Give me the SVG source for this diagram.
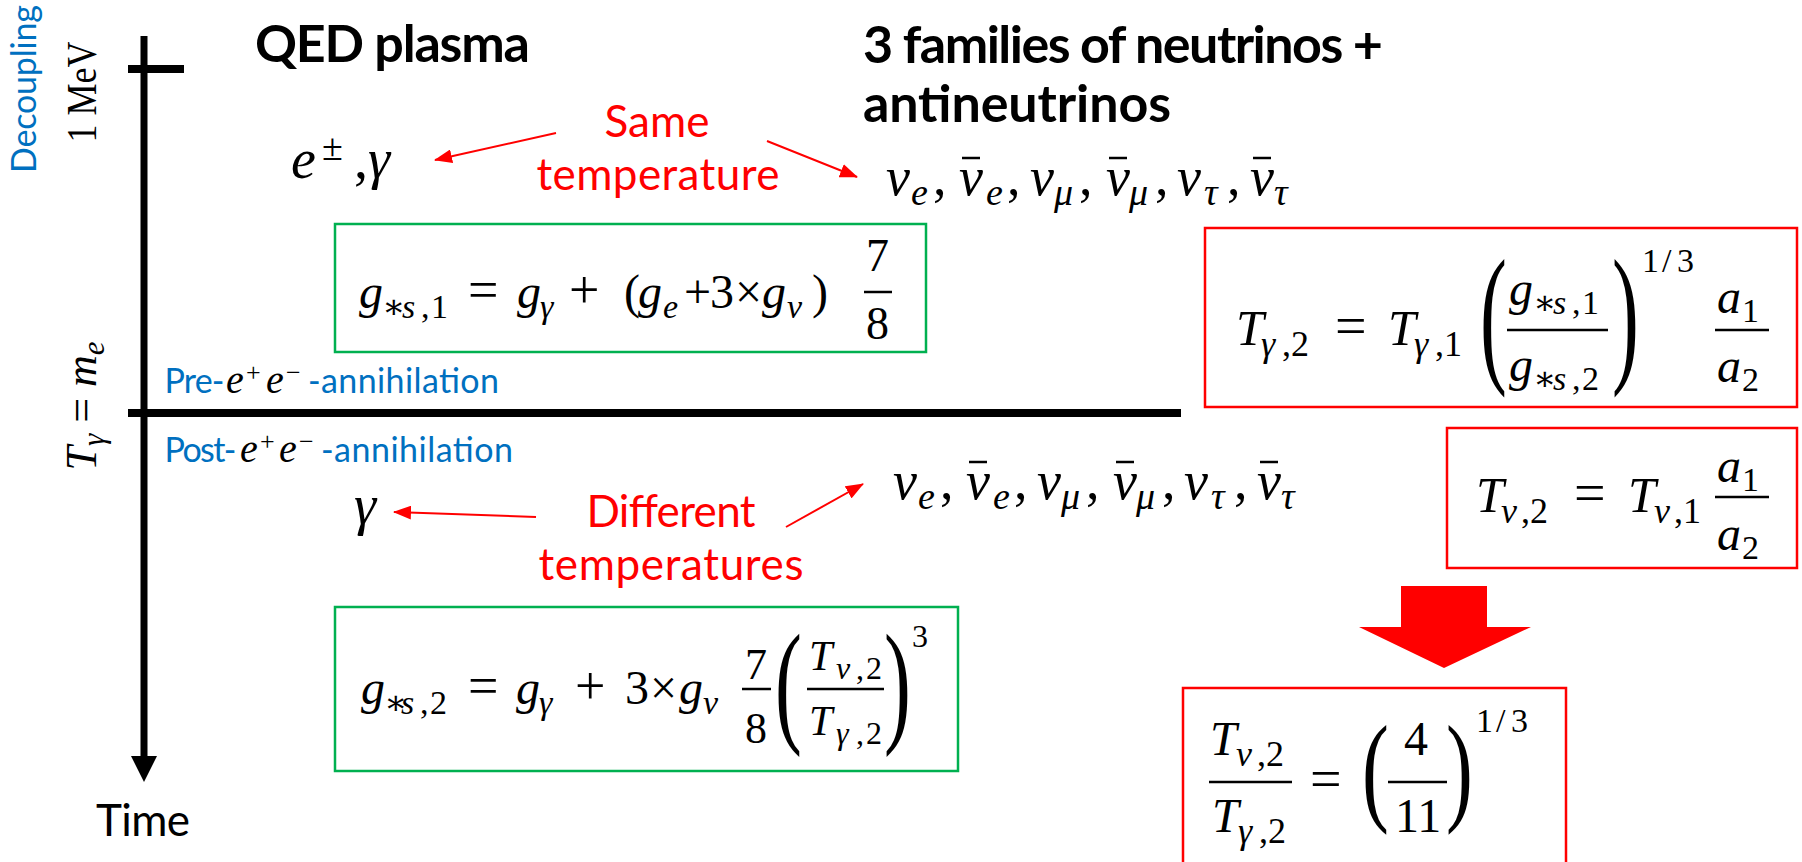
<svg xmlns="http://www.w3.org/2000/svg" width="1802" height="862" viewBox="0 0 1802 862">
<defs>
<style>
.s{font-family:Lato,"Open Sans","Liberation Sans",sans-serif}
.b{font-weight:700}
.m{font-family:"Liberation Serif","DejaVu Serif",serif;font-style:italic;fill:#000}
.u{font-style:normal}
.red{fill:#FF0000}
.blue{fill:#0070C0}
.gbox{fill:none;stroke:#00B050;stroke-width:2.5}
.rbox{fill:none;stroke:#FF0000;stroke-width:2.5}
.bar{stroke:#000;stroke-width:2.5}
.thin{stroke:#FF0000;stroke-width:2;fill:none}
</style>
<marker id="ah" markerUnits="userSpaceOnUse" markerWidth="18" markerHeight="14" refX="17" refY="7" orient="auto"><path d="M0,0 L18,7 L0,14 z" fill="#FF0000"/></marker>
</defs>
<rect width="1802" height="862" fill="#fff"/>

<g id="time-axis">
<line x1="144" y1="36" x2="144" y2="760" stroke="#000" stroke-width="7"/>
<polygon points="131,756 157,756 144,782" fill="#000"/>
<line x1="128" y1="69" x2="184" y2="69" stroke="#000" stroke-width="8"/>
<line x1="128" y1="413" x2="1181" y2="413" stroke="#000" stroke-width="8"/>
<text class="s" x="96" y="836" font-size="44" textLength="94">Time</text>
</g>

<g id="axis-labels">
<text class="s blue" font-size="34" text-anchor="middle" textLength="168" transform="translate(36,89) rotate(-90)">Decoupling</text>
<text class="m u" font-size="42" text-anchor="middle" textLength="101" lengthAdjust="spacingAndGlyphs" transform="translate(96,92) rotate(-90)">1 MeV</text>
<text class="m" font-size="44" text-anchor="middle" transform="translate(96,406) rotate(-90)">T<tspan font-size="31" dy="8">γ</tspan><tspan class="u" dy="-8"> = </tspan>m<tspan font-size="31" dy="8">e</tspan></text>
</g>

<g id="phase-labels">
<text class="s blue" font-size="34" y="393"><tspan x="164.5" textLength="60">Pre-</tspan><tspan class="m" x="226" font-size="40">e</tspan><tspan class="m u" x="246" y="381" font-size="26">+</tspan><tspan class="m" x="266" y="393" font-size="40">e</tspan><tspan class="m u" x="286" y="381" font-size="26">−</tspan><tspan x="308" y="393" textLength="191">-annihilation</tspan></text>
<text class="s blue" font-size="34" y="462"><tspan x="164.5" textLength="72">Post-</tspan><tspan class="m" x="240" font-size="40">e</tspan><tspan class="m u" x="260" y="450" font-size="26">+</tspan><tspan class="m" x="279" y="462" font-size="40">e</tspan><tspan class="m u" x="299" y="450" font-size="26">−</tspan><tspan x="321" y="462" textLength="192">-annihilation</tspan></text>
</g>

<g id="title-qed">
<text class="s b" x="255" y="62" font-size="52" textLength="275">QED plasma</text>
</g>
<g id="title-neutrinos">
<text class="s b" x="863" y="63" font-size="52" textLength="520">3 families of neutrinos +</text>
<text class="s b" x="863" y="122" font-size="52" textLength="308">antineutrinos</text>
</g>

<g id="particles-pre-qed">
<text class="m" font-size="56"><tspan x="291" y="178">e</tspan><tspan class="u" x="322" y="160" font-size="38">±</tspan><tspan class="u" x="354" y="178">,</tspan><tspan x="368" y="178">γ</tspan></text>
</g>
<g id="particles-pre-nu">
<text class="m" font-size="54"><tspan x="886" y="195">ν</tspan><tspan x="911" y="205" font-size="38">e</tspan><tspan class="u" x="933" y="195">,</tspan><tspan x="959" y="195">ν</tspan><tspan x="986" y="205" font-size="38">e</tspan><tspan class="u" x="1007" y="195">,</tspan><tspan x="1030" y="195">ν</tspan><tspan x="1054" y="205" font-size="38">μ</tspan><tspan class="u" x="1079" y="195">,</tspan><tspan x="1106" y="195">ν</tspan><tspan x="1129" y="205" font-size="38">μ</tspan><tspan class="u" x="1155" y="195">,</tspan><tspan x="1177" y="195">ν</tspan><tspan x="1204" y="205" font-size="38">τ</tspan><tspan class="u" x="1227" y="195">,</tspan><tspan x="1250" y="195">ν</tspan><tspan x="1274" y="205" font-size="38">τ</tspan></text>
<line class="bar" x1="962" y1="158" x2="980" y2="158"/>
<line class="bar" x1="1109" y1="158" x2="1127" y2="158"/>
<line class="bar" x1="1253" y1="158" x2="1271" y2="158"/>
</g>
<g id="label-same">
<text class="s red" font-size="44" text-anchor="middle" x="657" y="137" textLength="105">Same</text>
<text class="s red" font-size="44" text-anchor="middle" x="658" y="190" textLength="243">temperature</text>
</g>

<g id="particles-post-gamma">
<text class="m" x="354" y="524" font-size="56">γ</text>
</g>
<g id="particles-post-nu">
<text class="m" font-size="54"><tspan x="893" y="499">ν</tspan><tspan x="918" y="509" font-size="38">e</tspan><tspan class="u" x="940" y="499">,</tspan><tspan x="966" y="499">ν</tspan><tspan x="993" y="509" font-size="38">e</tspan><tspan class="u" x="1014" y="499">,</tspan><tspan x="1037" y="499">ν</tspan><tspan x="1061" y="509" font-size="38">μ</tspan><tspan class="u" x="1086" y="499">,</tspan><tspan x="1113" y="499">ν</tspan><tspan x="1136" y="509" font-size="38">μ</tspan><tspan class="u" x="1162" y="499">,</tspan><tspan x="1184" y="499">ν</tspan><tspan x="1211" y="509" font-size="38">τ</tspan><tspan class="u" x="1234" y="499">,</tspan><tspan x="1257" y="499">ν</tspan><tspan x="1281" y="509" font-size="38">τ</tspan></text>
<line class="bar" x1="969" y1="462" x2="987" y2="462"/>
<line class="bar" x1="1116" y1="462" x2="1134" y2="462"/>
<line class="bar" x1="1260" y1="462" x2="1278" y2="462"/>
</g>
<g id="label-different">
<text class="s red" font-size="44" text-anchor="middle" x="671" y="527" textLength="169">Different</text>
<text class="s red" font-size="44" text-anchor="middle" x="671" y="580" textLength="265">temperatures</text>
</g>

<g id="eq-gs1">
<rect class="gbox" x="335" y="224" width="591" height="128"/>
<text class="m" font-size="48"><tspan x="359" y="308">g</tspan><tspan x="382 402" y="318" font-size="34">∗s</tspan><tspan class="u" x="421 431" y="318" font-size="34">,1</tspan><tspan class="u" x="468" y="308" font-size="54">=</tspan><tspan x="517" y="308">g</tspan><tspan x="540" y="318" font-size="34">γ</tspan><tspan class="u" x="569" y="308" font-size="54">+</tspan><tspan class="u" x="624" y="308">(</tspan><tspan x="638" y="308">g</tspan><tspan x="663" y="318" font-size="34">e</tspan><tspan class="u" x="684 710 735" y="308">+3×</tspan><tspan x="762" y="308">g</tspan><tspan x="787" y="318" font-size="34">ν</tspan><tspan class="u" x="812" y="308">)</tspan></text>
<text class="m u" font-size="46"><tspan x="866" y="271">7</tspan><tspan x="866" y="339">8</tspan></text>
<line class="bar" x1="864" y1="292" x2="892" y2="292"/>
</g>

<g id="eq-gs2">
<rect class="gbox" x="335" y="607" width="623" height="164"/>
<text class="m" font-size="48"><tspan x="361" y="704">g</tspan><tspan x="384 401" y="714" font-size="34">∗s</tspan><tspan class="u" x="420 430" y="714" font-size="34">,2</tspan><tspan class="u" x="468" y="704" font-size="54">=</tspan><tspan x="516" y="704">g</tspan><tspan x="539" y="714" font-size="34">γ</tspan><tspan class="u" x="575" y="704" font-size="54">+</tspan><tspan class="u" x="625 650" y="704">3×</tspan><tspan x="679" y="704">g</tspan><tspan x="703" y="714" font-size="34">ν</tspan></text>
<text class="m u" font-size="44"><tspan x="745" y="679">7</tspan><tspan x="745" y="743">8</tspan></text>
<line class="bar" x1="742" y1="689" x2="771" y2="689"/>
<text class="m u" font-size="62" transform="translate(775,728) scale(1.3,2.18)">(</text>
<text class="m" font-size="42"><tspan x="809" y="670">T</tspan><tspan x="836" y="679" font-size="32">ν</tspan><tspan class="u" x="856 866" y="679" font-size="32">,2</tspan><tspan x="809" y="735">T</tspan><tspan x="836" y="744" font-size="32">γ</tspan><tspan class="u" x="856 866" y="744" font-size="32">,2</tspan></text>
<line class="bar" x1="807" y1="689" x2="884" y2="689"/>
<text class="m u" font-size="62" transform="translate(884,728) scale(1.3,2.18)">)</text>
<text class="m u" x="912" y="647" font-size="32">3</text>
</g>

<g id="eq-tgamma2">
<rect class="rbox" x="1205" y="228" width="592" height="179"/>
<text class="m" font-size="50"><tspan x="1236" y="345">T</tspan><tspan x="1261" y="356" font-size="36">γ</tspan><tspan class="u" x="1282 1291" y="356" font-size="36">,2</tspan><tspan class="u" x="1335" y="345" font-size="56">=</tspan><tspan x="1388" y="345">T</tspan><tspan x="1414" y="356" font-size="36">γ</tspan><tspan class="u" x="1435 1444" y="356" font-size="36">,1</tspan></text>
<text class="m u" font-size="62" transform="translate(1480,365) scale(1.3,2.45)">(</text>
<text class="m" font-size="48"><tspan x="1509" y="305">g</tspan><tspan x="1533 1553" y="314" font-size="34">∗s</tspan><tspan class="u" x="1572 1582" y="314" font-size="34">,1</tspan><tspan x="1509" y="381">g</tspan><tspan x="1533 1553" y="390" font-size="34">∗s</tspan><tspan class="u" x="1572 1582" y="390" font-size="34">,2</tspan></text>
<line class="bar" x1="1507" y1="330" x2="1608" y2="330"/>
<text class="m u" font-size="62" transform="translate(1612,365) scale(1.3,2.45)">)</text>
<text class="m u" font-size="34" x="1642 1662 1677" y="272">1/3</text>
<text class="m" font-size="48"><tspan x="1717" y="313">a</tspan><tspan class="u" x="1742" y="322" font-size="34">1</tspan><tspan x="1717" y="382">a</tspan><tspan class="u" x="1742" y="391" font-size="34">2</tspan></text>
<line class="bar" x1="1715" y1="330" x2="1769" y2="330"/>
</g>

<g id="eq-tnu2">
<rect class="rbox" x="1447" y="428" width="350" height="140"/>
<text class="m" font-size="50"><tspan x="1476" y="512">T</tspan><tspan x="1501" y="523" font-size="36">ν</tspan><tspan class="u" x="1521 1530" y="523" font-size="36">,2</tspan><tspan class="u" x="1574" y="512" font-size="56">=</tspan><tspan x="1628" y="512">T</tspan><tspan x="1654" y="523" font-size="36">ν</tspan><tspan class="u" x="1674 1683" y="523" font-size="36">,1</tspan></text>
<text class="m" font-size="48"><tspan x="1717" y="482">a</tspan><tspan class="u" x="1742" y="491" font-size="34">1</tspan><tspan x="1717" y="550">a</tspan><tspan class="u" x="1742" y="559" font-size="34">2</tspan></text>
<line class="bar" x1="1715" y1="497" x2="1769" y2="497"/>
</g>

<g id="eq-result">
<rect class="rbox" x="1183" y="688" width="383" height="180"/>
<text class="m" font-size="48"><tspan x="1210" y="755">T</tspan><tspan x="1236" y="766" font-size="36">ν</tspan><tspan class="u" x="1257 1266" y="766" font-size="36">,2</tspan><tspan x="1212" y="832">T</tspan><tspan x="1238" y="843" font-size="36">γ</tspan><tspan class="u" x="1259 1268" y="843" font-size="36">,2</tspan><tspan class="u" x="1310" y="798" font-size="56">=</tspan></text>
<line class="bar" x1="1209" y1="782" x2="1292" y2="782"/>
<text class="m u" font-size="62" transform="translate(1362,809) scale(1.3,1.96)">(</text>
<text class="m u" font-size="48"><tspan x="1404" y="755">4</tspan><tspan x="1395" y="832">11</tspan></text>
<line class="bar" x1="1388" y1="782" x2="1447" y2="782"/>
<text class="m u" font-size="62" transform="translate(1446,809) scale(1.3,1.96)">)</text>
<text class="m u" font-size="34" x="1476 1496 1511" y="732">1/3</text>
</g>

<g id="connectors">
<line class="thin" x1="556" y1="133" x2="435" y2="160" marker-end="url(#ah)"/>
<line class="thin" x1="767" y1="141" x2="857" y2="177" marker-end="url(#ah)"/>
<line class="thin" x1="536" y1="517" x2="394" y2="512" marker-end="url(#ah)"/>
<line class="thin" x1="786" y1="527" x2="863" y2="484" marker-end="url(#ah)"/>
<polygon points="1401,586 1487,586 1487,627 1531,627 1444,668 1359,627 1401,627" fill="#FF0000"/>
</g>
</svg>
